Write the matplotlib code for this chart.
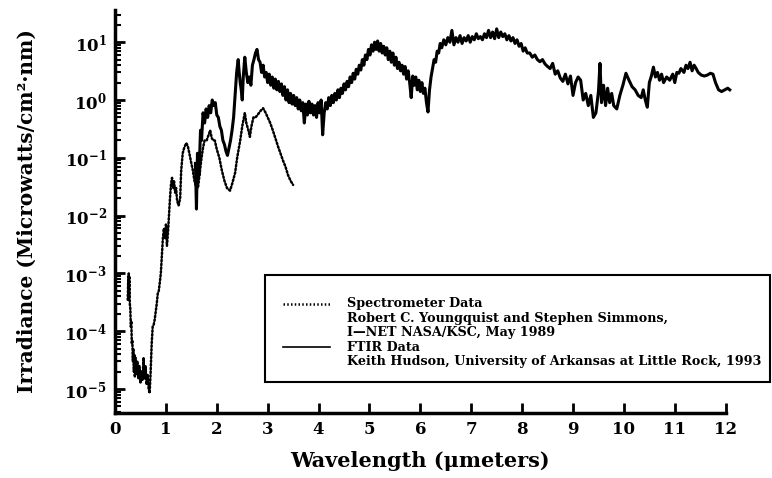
import numpy as np
import matplotlib
matplotlib.use("Agg")
from matplotlib import pyplot as plt
from matplotlib.patches import Rectangle
from matplotlib.lines import Line2D
from matplotlib.ticker import FixedLocator, NullFormatter, LogFormatterMathtext

plt.rcParams['font.family'] = ['DejaVu Serif']
plt.rcParams['font.weight'] = 'bold'
plt.rcParams['mathtext.fontset'] = 'custom'
plt.rcParams['mathtext.rm'] = 'DejaVu Serif:bold'
plt.rcParams['mathtext.bf'] = 'DejaVu Serif:bold'
plt.rcParams['mathtext.it'] = 'DejaVu Serif:italic:bold'

# spectrometer scan (Youngquist / Simmons)
spec_wl = [0.25, 0.26, 0.27, 0.275, 0.28, 0.29, 0.30, 0.31, 0.32, 0.33, 0.34, 0.35, 0.36, 0.37,
           0.38, 0.39, 0.40, 0.42, 0.44, 0.46, 0.48, 0.50, 0.52, 0.54, 0.56, 0.58, 0.60, 0.62,
           0.64, 0.66, 0.68, 0.70, 0.72, 0.74, 0.76, 0.78, 0.80, 0.82, 0.84, 0.86, 0.88, 0.90,
           0.92, 0.94, 0.96, 0.98, 1.00, 1.02, 1.04, 1.06, 1.08, 1.10, 1.12, 1.14, 1.16, 1.18,
           1.20, 1.22, 1.25, 1.28, 1.30, 1.33, 1.36, 1.40, 1.43, 1.46, 1.50, 1.53, 1.56, 1.60,
           1.63, 1.66, 1.70, 1.73, 1.76, 1.80, 1.84, 1.87, 1.90, 1.93, 1.96, 2.00, 2.05, 2.10,
           2.15, 2.20, 2.26, 2.30, 2.36, 2.40, 2.46, 2.50, 2.55, 2.58, 2.62, 2.65, 2.68, 2.72,
           2.76, 2.80, 2.86, 2.91, 2.96, 3.00, 3.05, 3.10, 3.15, 3.20, 3.25, 3.30, 3.35, 3.40,
           3.45, 3.50]
spec_irr = [3.5e-4, 8e-4, 1e-3, 4e-4, 9e-4, 3e-4, 2.5e-4, 1.2e-4, 1.5e-4, 6e-5, 7e-5, 3e-5, 5e-5, 2e-5,
            4e-5, 1.6e-5, 3.5e-5, 1.8e-5, 3e-5, 1.5e-5, 2.5e-5, 1.3e-5, 2e-5, 1.4e-5, 3.5e-5, 1.5e-5, 2.5e-5, 1.2e-5,
            1.8e-5, 1e-5, 8.5e-6, 2e-5, 6e-5, 1.2e-4, 1.3e-4, 1.6e-4, 2.2e-4, 3e-4, 4.5e-4, 5e-4, 7e-4, 1e-3,
            2e-3, 4e-3, 6e-3, 4e-3, 7e-3, 3e-3, 5e-3, 1e-2, 2e-2, 3.5e-2, 4.5e-2, 3e-2, 4e-2, 2.5e-2,
            3e-2, 1.8e-2, 1.5e-2, 2e-2, 6e-2, 1.2e-1, 1.5e-1, 1.8e-1, 1.6e-1, 1.2e-1, 8e-2, 6e-2, 4e-2, 3e-2,
            3e-2, 5e-2, 1e-1, 1.5e-1, 2e-1, 2e-1, 2.5e-1, 3e-1, 2.2e-1, 2e-1, 2e-1, 1.4e-1, 1e-1, 6e-2,
            4e-2, 3e-2, 2.7e-2, 3.5e-2, 5.5e-2, 1e-1, 2e-1, 3.5e-1, 6e-1, 4e-1, 3e-1, 2.3e-1, 3.5e-1, 5e-1,
            5e-1, 5.5e-1, 6.5e-1, 7.2e-1, 6e-1, 5e-1, 4e-1, 3e-1, 2.2e-1, 1.6e-1, 1.2e-1, 9e-2, 7e-2, 5e-2,
            4e-2, 3.4e-2]

# FTIR scan (Hudson)
ftir_wl = [1.58, 1.60, 1.62, 1.65, 1.68, 1.70, 1.73, 1.76, 1.79, 1.82, 1.85, 1.88, 1.91, 1.94,
           1.97, 2.00, 2.03, 2.06, 2.09, 2.12, 2.15, 2.18, 2.21, 2.24, 2.27, 2.30, 2.33, 2.36,
           2.39, 2.42, 2.44, 2.46, 2.48, 2.50, 2.52, 2.55, 2.58, 2.61, 2.64, 2.67, 2.70, 2.73,
           2.76, 2.79, 2.82, 2.85, 2.88, 2.91, 2.94, 2.97, 3.00, 3.03, 3.06, 3.09, 3.12, 3.15,
           3.18, 3.21, 3.24, 3.27, 3.30, 3.33, 3.36, 3.39, 3.42, 3.45, 3.48, 3.51, 3.54, 3.57,
           3.60, 3.63, 3.66, 3.69, 3.72, 3.75, 3.78, 3.81, 3.84, 3.87, 3.90, 3.93, 3.96, 3.99,
           4.02, 4.05, 4.08, 4.11, 4.14, 4.17, 4.20, 4.23, 4.26, 4.29, 4.32, 4.35, 4.38, 4.41,
           4.44, 4.47, 4.50, 4.53, 4.56, 4.59, 4.62, 4.65, 4.68, 4.71, 4.74, 4.77, 4.80, 4.83,
           4.86, 4.89, 4.92, 4.95, 4.98, 5.01, 5.04, 5.07, 5.10, 5.13, 5.16, 5.19, 5.22, 5.25,
           5.28, 5.31, 5.34, 5.37, 5.40, 5.43, 5.46, 5.49, 5.52, 5.55, 5.58, 5.61, 5.64, 5.67,
           5.70, 5.73, 5.76, 5.79, 5.82, 5.85, 5.88, 5.91, 5.94, 5.97, 6.00, 6.03, 6.06, 6.09,
           6.12, 6.15, 6.18, 6.21, 6.24, 6.27, 6.30, 6.33, 6.36, 6.39, 6.42, 6.46, 6.50, 6.54,
           6.58, 6.62, 6.66, 6.70, 6.74, 6.78, 6.82, 6.86, 6.90, 6.94, 6.98, 7.02, 7.06, 7.10,
           7.14, 7.18, 7.22, 7.26, 7.30, 7.34, 7.38, 7.42, 7.46, 7.50, 7.54, 7.58, 7.62, 7.66,
           7.70, 7.74, 7.78, 7.82, 7.86, 7.90, 7.94, 7.98, 8.02, 8.06, 8.10, 8.15, 8.20, 8.25,
           8.30, 8.35, 8.40, 8.45, 8.50, 8.55, 8.60, 8.65, 8.70, 8.75, 8.80, 8.85, 8.90, 8.95,
           9.00, 9.05, 9.10, 9.15, 9.20, 9.25, 9.30, 9.35, 9.40, 9.45, 9.50, 9.53, 9.56, 9.60,
           9.64, 9.68, 9.72, 9.76, 9.80, 9.86, 9.92, 9.98, 10.04, 10.10, 10.16, 10.22, 10.28, 10.34,
           10.38, 10.42, 10.46, 10.50, 10.54, 10.58, 10.62, 10.66, 10.70, 10.74, 10.78, 10.84, 10.90, 10.96,
           11.00, 11.04, 11.08, 11.12, 11.18, 11.22, 11.26, 11.30, 11.34, 11.38, 11.42, 11.46, 11.52, 11.58,
           11.64, 11.70, 11.75, 11.80, 11.86, 11.92, 11.98, 12.04, 12.08]
ftir_irr = [0.08, 0.013, 0.12, 0.05, 0.3, 0.2, 0.6, 0.4, 0.7, 0.5, 0.8, 0.6, 1.0, 0.8,
            0.9, 0.55, 0.5, 0.35, 0.3, 0.2, 0.17, 0.13, 0.11, 0.15, 0.2, 0.3, 0.5, 1.2,
            3.0, 5.0, 3.0, 2.0, 1.5, 1.0, 2.5, 5.5, 3.0, 2.0, 2.5, 1.8, 4.0, 5.0,
            6.5, 7.5, 5.0, 4.5, 3.0, 4.0, 2.5, 3.0, 2.0, 2.8, 1.8, 2.5, 1.6, 2.3,
            1.5, 2.1, 1.4, 1.9, 1.2, 1.7, 1.0, 1.5, 0.9, 1.3, 0.85, 1.2, 0.8, 1.1,
            0.7, 1.0, 0.65, 0.9, 0.4, 0.85, 0.55, 0.95, 0.6, 0.85, 0.55, 0.8, 0.5, 0.9,
            0.6, 1.0, 0.25, 0.6, 0.9, 0.7, 1.1, 0.8, 1.2, 0.9, 1.3, 1.0, 1.5, 1.1,
            1.6, 1.3, 1.9, 1.5, 2.1, 1.7, 2.5, 2.0, 2.9, 2.3, 3.4, 2.8, 4.0, 3.3,
            5.0, 4.0, 6.0, 5.0, 7.5, 6.0, 9.0, 7.0, 10.0, 7.5, 10.5, 7.0, 9.5, 6.5,
            8.5, 6.0, 8.0, 5.0, 7.0, 4.5, 6.5, 4.0, 5.5, 3.5, 4.5, 3.2, 4.0, 2.8,
            3.8, 2.3, 3.2, 2.0, 1.1, 2.6, 1.8, 2.5, 1.5, 2.2, 1.4, 2.0, 1.3, 1.6,
            0.9, 0.62, 1.5, 2.5, 3.5, 5.0, 4.5, 7.0, 6.5, 9.5, 8.0, 11, 9, 12,
            10, 16, 9, 12, 10, 13, 9.5, 12, 10.5, 13, 10, 12.5, 11, 14,
            11.5, 12.5, 11, 14, 12, 16, 12, 15, 11.5, 17, 12, 15, 12.5, 14,
            11, 13, 10.5, 12, 9.5, 11, 8.5, 9.5, 7.0, 8.0, 6.5, 6.5, 5.5, 6.0,
            5.0, 4.6, 5.0, 4.2, 3.8, 3.5, 4.3, 2.8, 3.2, 2.4, 2.1, 2.8, 1.9, 2.6,
            1.2, 2.0, 2.5, 2.2, 1.0, 1.3, 0.8, 1.2, 0.5, 0.6, 1.4, 4.3, 0.9, 1.8,
            0.8, 1.6, 0.9, 1.3, 0.8, 0.7, 1.2, 1.8, 2.9, 2.2, 1.7, 1.5, 1.2, 1.1,
            1.5, 1.0, 0.75, 2.0, 2.6, 3.7, 2.5, 3.0, 2.2, 2.8, 2.0, 2.5, 2.2, 2.8,
            2.0, 3.0, 2.9, 3.5, 3.0, 4.0, 3.5, 4.5, 3.2, 4.0, 3.5, 3.0, 2.7, 2.6,
            2.7, 2.9, 2.8, 2.0, 1.5, 1.4, 1.5, 1.6, 1.5]

x_ticks = [0, 1, 2, 3, 4, 5, 6, 7, 8, 9, 10, 11, 12]
y_ticks = [1e-5, 1e-4, 1e-3, 1e-2, 1e-1, 1e0, 1e1]

legend_lines = ["Spectrometer Data",
                "Robert C. Youngquist and Stephen Simmons,",
                "I\u2014NET NASA/KSC, May 1989",
                "FTIR Data",
                "Keith Hudson, University of Arkansas at Little Rock, 1993"]

fig = plt.figure(figsize=(7.72, 4.78), dpi=100)
ax = fig.add_axes([0.149, 0.136, 0.791, 0.843])

ax.plot(spec_wl, spec_irr, color='black', lw=1.8, linestyle=(0, (0.6, 0.9)),
        dash_capstyle='round')
ax.plot(ftir_wl, ftir_irr, color='black', lw=2.2, clip_on=False)

ax.set_yscale('log')
ax.set_xlim(0, 12)
ax.set_ylim(3.85e-6, 36)
ax.xaxis.set_major_locator(FixedLocator(x_ticks))
ax.yaxis.set_major_locator(FixedLocator(y_ticks))
ax.yaxis.set_major_formatter(LogFormatterMathtext())
minor = [m * d for d in [1e-6] + y_ticks for m in range(2, 10)]
ax.yaxis.set_minor_locator(FixedLocator([v for v in minor if 3.85e-6 <= v <= 36]))
ax.yaxis.set_minor_formatter(NullFormatter())

for side in ['top', 'right']:
    ax.spines[side].set_visible(False)
for side in ['left', 'bottom']:
    ax.spines[side].set_linewidth(2.5)

ax.tick_params(axis='both', which='major', direction='in', length=7, width=2,
               labelsize=12, pad=6)
ax.tick_params(axis='y', which='minor', direction='in', length=4, width=1.5)
ax.tick_params(axis='x', which='minor', length=0)

ax.set_xlabel("Wavelength (\u03bcmeters)", fontsize=15, fontweight='bold', labelpad=9)
ax.set_ylabel("Irradiance (Microwatts/cm\u00b2\u00b7nm)", fontsize=14.5, fontweight='bold',
              labelpad=20)

# legend box drawn by hand, it runs past the right end of the axis
fig.patches.append(Rectangle((265 / 772, 1 - 382 / 478), 505 / 772, 107 / 478,
                             transform=fig.transFigure, fill=False, lw=1.5,
                             edgecolor='black'))
fig.lines.append(Line2D([283 / 772, 330 / 772], [1 - 304 / 478] * 2, transform=fig.transFigure,
                        color='black', lw=1.8, linestyle=(0, (0.6, 0.9))))
fig.lines.append(Line2D([283 / 772, 330 / 772], [1 - 347 / 478] * 2, transform=fig.transFigure,
                        color='black', lw=1.2))
for i, line in enumerate(legend_lines):
    fig.text(347 / 772, 1 - (304 + 14.4 * i) / 478, line, fontsize=9.2, fontweight='bold',
             va='center', ha='left')

fig.savefig("out.png", dpi=100)
